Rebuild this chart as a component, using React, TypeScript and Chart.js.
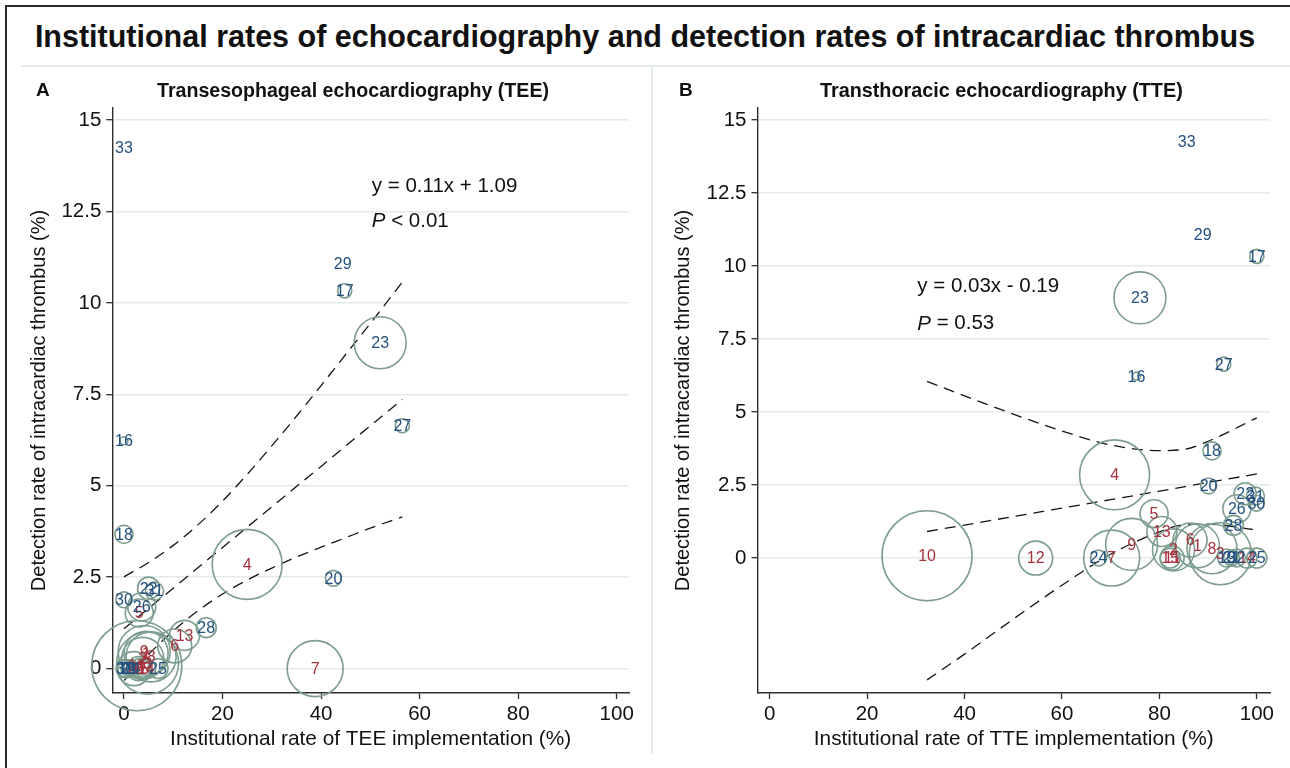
import React, { useEffect, useRef } from "react";
import { Chart, registerables } from "chart.js";

Chart.register(...registerables);

const FONT = "'Liberation Sans', Arial, Helvetica, sans-serif";

// ---- data ----
const institutions = [
  1, 2, 3, 4, 5, 6, 7, 8, 9, 10, 11, 12, 13, 14, 15, 16, 17, 18, 19, 20, 21, 22,
  23, 24, 25, 26, 27, 28, 29, 30, 31, 32, 33,
];
// detection rate of intracardiac thrombus (%), shared by both panels
const detectionRate = [
  0.42, 0.28, 0.15, 2.85, 1.52, 0.62, 0.0, 0.32, 0.47, 0.08, 0.0, 0.0, 0.91, 0.0,
  0.0, 6.23, 10.33, 3.67, 0.0, 2.47, 0.0, 2.2, 8.91, 0.0, 0.0, 1.69, 6.64, 1.12,
  11.07, 1.88, 2.12, 0.0, 14.25,
];
// institutional rate of TEE implementation (%)
const teeRate = [
  4.5, 3.8, 4.8, 25.0, 3.1, 10.3, 38.8, 5.5, 4.1, 2.6, 3.0, 2.0, 12.3, 4.4, 3.3,
  0.0, 44.8, 0.0, 0.6, 42.5, 1.0, 5.0, 52.0, 1.5, 6.9, 3.6, 56.5, 16.7, 44.4,
  0.0, 6.2, 0.2, 0.0,
];
// institutional rate of TTE implementation (%)
const tteRate = [
  87.8, 82.9, 92.5, 70.8, 78.9, 86.3, 70.2, 90.8, 74.3, 32.3, 82.6, 54.6, 80.5,
  98.0, 82.2, 75.3, 100.0, 90.8, 93.8, 90.1, 94.8, 97.6, 76.0, 67.5, 100.0, 95.9,
  93.2, 95.2, 88.9, 99.9, 99.7, 95.8, 85.6,
];
// bubble weights (patients per institution)
const patients = [
  215, 196, 427, 544, 87, 128, 348, 278, 300, 900, 64, 128, 100, 44, 44, 7, 22,
  36, 36, 28, 28, 54, 300, 28, 44, 87, 22, 44, 0, 28, 36, 36, 0,
];

// regression line with confidence band, panel A (TEE)
const teeLineX = [0, 5, 10, 15, 20, 25, 30, 35, 40, 45, 50, 56.5];
const teeFit = [1.09, 1.65, 2.2, 2.76, 3.31, 3.87, 4.42, 4.98, 5.53, 6.09, 6.64, 7.36];
const teeUpper = [2.51, 2.9, 3.37, 3.93, 4.58, 5.31, 6.09, 6.9, 7.74, 8.59, 9.44, 10.57];
const teeLower = [-0.33, 0.39, 1.03, 1.58, 2.04, 2.42, 2.75, 3.05, 3.32, 3.58, 3.84, 4.15];

// regression line with confidence band, panel B (TTE)
const tteLineX = [32.3, 40, 50, 60, 70, 80, 85, 90, 100];
const tteFit = [0.91, 1.13, 1.42, 1.71, 2.0, 2.29, 2.44, 2.59, 2.88];
const tteUpper = [6.05, 5.55, 4.93, 4.35, 3.87, 3.68, 3.72, 4.0, 4.8];
const tteLower = [-4.17, -3.29, -2.09, -0.93, 0.13, 0.9, 1.14, 1.16, 0.96];

const xTicks = [0, 20, 40, 60, 80, 100];
const yTicks = [0, 2.5, 5, 7.5, 10, 12.5, 15];
const yTickLabels = ["0", "2.5", "5", "7.5", "10", "12.5", "15"];

const teeEquation = "y = 0.11x + 1.09";
const teeP = "< 0.01";
const tteEquation = "y = 0.03x - 0.19";
const tteP = "= 0.53";

// ---- styles ----
const RED = "#a6323e";
const BLUE = "#23507f";
const RING = "#7d9d8f";
const GRID = "#e2eaec";
const AXIS = "#2e2e2e";
const INK = "#111111";

const bubbleRadius = (w: number) => 1.5 * Math.sqrt(w);

type PanelCfg = {
  xVals: number[];
  lineX: number[];
  fit: number[];
  upper: number[];
  lower: number[];
  xRange: [number, number];
  yRange: [number, number];
  xTitle: string;
  equation: string;
  pText: string;
  eqAt: [number, number, number]; // x, y of equation, y of P line (data units)
  yTitlePad: number;
  yScaleWidth: number;
  padRight: number;
  width: number;
};

function Panel({ cfg, left }: { cfg: PanelCfg; left: number }) {
  const ref = useRef<HTMLCanvasElement | null>(null);
  useEffect(() => {
    if (!ref.current) return;
    const labelPlugin = {
      id: "instLabels",
      afterDatasetsDraw(chart: any) {
        const ctx = chart.ctx;
        const meta = chart.getDatasetMeta(0);
        ctx.save();
        ctx.font = `16px ${FONT}`;
        ctx.textAlign = "center";
        ctx.textBaseline = "middle";
        meta.data.forEach((el: any, i: number) => {
          ctx.fillStyle = institutions[i] <= 15 ? RED : BLUE;
          ctx.fillText(String(institutions[i]), el.x, el.y + 1);
        });
        // equation annotation
        const xs = chart.scales.x;
        const ys = chart.scales.y;
        const px = xs.getPixelForValue(cfg.eqAt[0]);
        const py1 = ys.getPixelForValue(cfg.eqAt[1]);
        const py2 = ys.getPixelForValue(cfg.eqAt[2]);
        ctx.fillStyle = INK;
        ctx.textAlign = "left";
        ctx.font = `20.5px ${FONT}`;
        ctx.fillText(cfg.equation, px, py1);
        ctx.font = `italic 20.5px ${FONT}`;
        ctx.fillText("P", px, py2);
        const w = ctx.measureText("P").width;
        ctx.font = `20.5px ${FONT}`;
        ctx.fillText(" " + cfg.pText, px + w, py2);
        ctx.restore();
      },
    };
    const pts = (xa: number[], ya: number[]) => xa.map((x, i) => ({ x, y: ya[i] }));
    const dashed = (data: any[]) => ({
      type: "line" as const,
      data,
      borderColor: "#151515",
      borderWidth: 1.3,
      borderDash: [11, 7],
      pointRadius: 0,
      fill: false,
      cubicInterpolationMode: "monotone" as const,
      clip: false as any,
    });
    const chart = new Chart(ref.current, {
      type: "bubble",
      data: {
        datasets: [
          {
            type: "bubble",
            data: institutions.map((_, i) => ({
              x: cfg.xVals[i],
              y: detectionRate[i],
              r: bubbleRadius(patients[i]),
            })),
            backgroundColor: "rgba(0,0,0,0)",
            borderColor: RING,
            borderWidth: 1.6,
            hoverRadius: 0,
            clip: false as any,
          } as any,
          dashed(pts(cfg.lineX, cfg.upper)),
          dashed(pts(cfg.lineX, cfg.fit)),
          dashed(pts(cfg.lineX, cfg.lower)),
        ],
      },
      options: {
        responsive: false,
        animation: false,
        events: [],
        layout: {
          autoPadding: false,
          padding: { left: 0, top: 48, right: cfg.padRight, bottom: 0 },
        },
        plugins: { legend: { display: false }, tooltip: { enabled: false } },
        scales: {
          x: {
            type: "linear",
            min: cfg.xRange[0],
            max: cfg.xRange[1],
            afterBuildTicks: (s: any) => {
              s.ticks = xTicks.map((v) => ({ value: v }));
            },
            afterFit: (s: any) => {
              s.height = 75;
              s.paddingLeft = 0;
              s.paddingRight = 0;
            },
            grid: {
              drawOnChartArea: false,
              tickLength: 6,
              tickColor: AXIS,
              tickWidth: 1.3,
            },
            border: { display: true, color: AXIS, width: 1.4 },
            ticks: {
              font: { family: FONT, size: 20.5 },
              color: INK,
              padding: 3,
              maxRotation: 0,
              autoSkip: false,
            },
            title: {
              display: true,
              text: cfg.xTitle,
              font: { family: FONT, size: 20.8 },
              color: INK,
              padding: { top: 0, bottom: 16 },
            },
          },
          y: {
            type: "linear",
            min: cfg.yRange[0],
            max: cfg.yRange[1],
            afterBuildTicks: (s: any) => {
              s.ticks = yTicks.map((v) => ({ value: v }));
            },
            afterFit: (s: any) => {
              s.width = cfg.yScaleWidth;
              s.paddingTop = 0;
              s.paddingBottom = 0;
            },
            grid: {
              color: GRID,
              lineWidth: 1.4,
              tickLength: 6,
              tickColor: AXIS,
              tickWidth: 1.3,
            },
            border: { display: true, color: AXIS, width: 1.4 },
            ticks: {
              font: { family: FONT, size: 20.5 },
              color: INK,
              padding: 5,
              autoSkip: false,
              callback: (v: any) => {
                const k = yTicks.indexOf(Number(v));
                return k >= 0 ? yTickLabels[k] : "";
              },
            },
            title: {
              display: true,
              text: "Detection rate of intracardiac thrombus (%)",
              font: { family: FONT, size: 20 },
              color: INK,
              padding: { top: cfg.yTitlePad, bottom: 0 },
            },
          },
        },
      } as any,
      plugins: [labelPlugin],
    });
    return () => chart.destroy();
  }, [cfg]);
  return (
    <canvas
      ref={ref}
      width={cfg.width}
      height={708}
      style={{ position: "absolute", left, top: 60, width: cfg.width, height: 708 }}
    />
  );
}

const panelA: PanelCfg = {
  xVals: teeRate,
  lineX: teeLineX,
  fit: teeFit,
  upper: teeUpper,
  lower: teeLower,
  xRange: [-2.37, 102.5],
  yRange: [-0.667, 15.33],
  xTitle: "Institutional rate of TEE implementation (%)",
  equation: teeEquation,
  pText: teeP,
  eqAt: [50.3, 13.2, 12.22],
  yTitlePad: 27,
  yScaleWidth: 112.3,
  padRight: 26,
  width: 655,
};

const panelB: PanelCfg = {
  xVals: tteRate,
  lineX: tteLineX,
  fit: tteFit,
  upper: tteUpper,
  lower: tteLower,
  xRange: [-2.5, 102.7],
  yRange: [-4.62, 15.41],
  xTitle: "Institutional rate of TTE implementation (%)",
  equation: tteEquation,
  pText: tteP,
  eqAt: [30.3, 9.3, 8.02],
  yTitlePad: 16,
  yScaleWidth: 102.5,
  padRight: 20,
  width: 635,
};

export default function App() {
  const light = "#e3eaec";
  return (
    <div
      style={{
        position: "absolute",
        left: 0,
        top: 0,
        width: 1290,
        height: 768,
        overflow: "hidden",
        background: "#fff",
        fontFamily: FONT,
        color: INK,
      }}
    >
      <div
        style={{
          position: "absolute",
          left: 5,
          top: 5,
          width: 1400,
          height: 900,
          borderTop: "2px solid #2a2a2a",
          borderLeft: "2px solid #2a2a2a",
        }}
      />
      <div
        style={{
          position: "absolute",
          left: 0,
          top: 19,
          width: 1290,
          textAlign: "center",
          fontWeight: "bold",
          fontSize: 30.5,
          lineHeight: "34px",
          whiteSpace: "nowrap",
        }}
      >
        Institutional rates of echocardiography and detection rates of intracardiac thrombus
      </div>
      <div style={{ position: "absolute", left: 21, top: 65, width: 1269, height: 2, background: light }} />
      <div style={{ position: "absolute", left: 651, top: 66, width: 2, height: 688, background: light }} />
      <Panel cfg={panelA} left={0} />
      <Panel cfg={panelB} left={655} />
      <div style={{ position: "absolute", left: 36, top: 78, fontWeight: "bold", fontSize: 19, lineHeight: "24px" }}>
        A
      </div>
      <div style={{ position: "absolute", left: 157, top: 78, fontWeight: "bold", fontSize: 19.6, lineHeight: "24px", whiteSpace: "nowrap" }}>
        Transesophageal echocardiography (TEE)
      </div>
      <div style={{ position: "absolute", left: 679, top: 78, fontWeight: "bold", fontSize: 19, lineHeight: "24px" }}>
        B
      </div>
      <div style={{ position: "absolute", left: 820, top: 78, fontWeight: "bold", fontSize: 19.8, lineHeight: "24px", whiteSpace: "nowrap" }}>
        Transthoracic echocardiography (TTE)
      </div>
    </div>
  );
}
